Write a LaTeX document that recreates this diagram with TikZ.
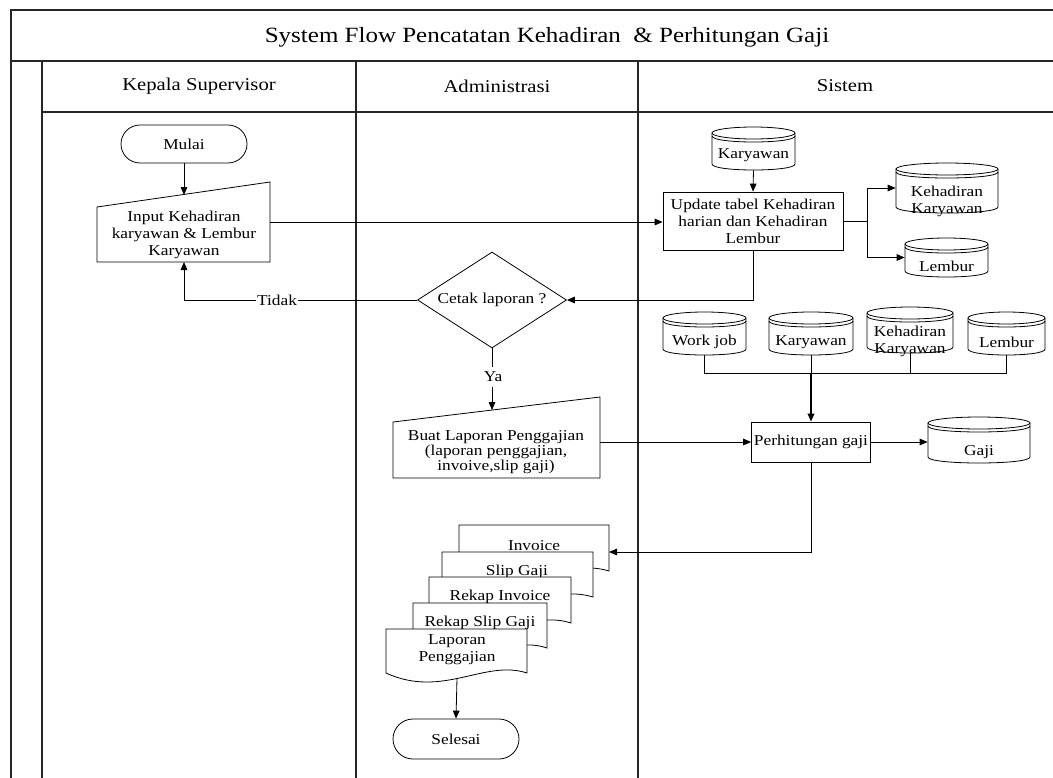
\documentclass[tikz,border=0pt]{standalone}
\usepackage{fontspec}
\setmainfont{Liberation Serif}[FakeStretch=1.15]
\usetikzlibrary{shapes.geometric,shapes.misc,arrows.meta}
% database cylinder outline: x1,y1,x2,y2
\newcommand\dbshape[4]{%
  \draw[fill=white] (#1,#2+6) -- (#1,#4-6) .. controls (#1,#4+2) and (#3,#4+2) .. (#3,#4-6) -- (#3,#2+6);
  \draw[fill=white] ({(#1+#3)/2},#2+6) ellipse [x radius={(#3-#1)*0.375pt}, y radius=4.5pt];
  \draw (#1,#2+9) .. controls (#1,#2+17) and (#3,#2+17) .. (#3,#2+9);
}
\newcommand\dbnode[5]{%
  \dbshape{#2}{#3}{#4}{#5}
  \node[inner sep=0pt, minimum width={(#4-#2)*0.75pt}, minimum height={(#5-#3)*0.75pt}] (#1) at ({(#2+#4)/2},{(#3+#5)/2}) {};
}
% manual input: x1, y top-left, x2, y top-right, y bottom
\newcommand\maninshape[5]{%
  \draw[fill=white] (#1,#5) -- (#1,#2) -- (#3,#4) -- (#3,#5) -- cycle;
}
% document: x1, top, x2, y bottom
\newcommand\docshape[4]{%
  \draw[fill=white] (#1,#4) -- (#1,#2) -- (#3,#2) -- (#3,#4) .. controls ({#3-0.3*(#3-#1)},#4-14) and ({#1+0.4*(#3-#1)},#4+26) .. (#1,#4) -- cycle;
}
\begin{document}
\begin{tikzpicture}[x=0.75pt,y=-0.75pt,line width=0.6pt,
  arr/.style={-{Triangle[length=6pt,width=5pt]}},
  lane/.style={line width=1.2pt, draw=black!85},
  txt/.style={font=\fontsize{11.3}{12.75}\selectfont, align=center, inner sep=0pt},
  hdr/.style={font=\fontsize{13.5}{15}\selectfont, inner sep=0pt},
  ttl/.style={font=\fontsize{16.3}{18}\selectfont, inner sep=0pt},
  term/.style={rounded rectangle, draw, fill=white, minimum width=94.5pt, inner sep=0pt, font=\fontsize{11.3}{12.75}\selectfont},
  box/.style={rectangle, draw, fill=white, align=center, inner sep=0pt, font=\fontsize{11.3}{12.75}\selectfont},
  lbl/.style={font=\fontsize{11.3}{12.75}\selectfont, fill=white, inner xsep=1pt, inner ysep=2.5pt}
  ]
\useasboundingbox (0,0) rectangle (1053,778);
\fill[white] (0,0) rectangle (1053,778);

% ---------- frame and lanes ----------
\draw[lane] (11,778) -- (11,10) -- (1053,10);
\draw[lane, line width=1.5pt] (11,61) -- (1053,61);
\draw[lane] (42,61) -- (42,778);
\draw[lane] (42,112) -- (1053,112);
\draw[lane] (356,61) -- (356,778);
\draw[lane] (638,61) -- (638,778);

\node[ttl] (title) at (547,37) {System Flow Pencatatan Kehadiran\ \ \& Perhitungan Gaji};
\node[hdr] (h1) at (199,86) {Kepala Supervisor};
\node[hdr] (h2) at (497,86) {Administrasi};
\node[hdr] (h3) at (845,86) {Sistem};

% ---------- Kepala Supervisor ----------
\node[term, minimum height=28.5pt] (mulai) at (184,144) {Mulai};
\maninshape{97}{207}{270}{182}{262}
\node[txt] (inp) at (184,235) {Input Kehadiran\\karyawan \& Lembur\\Karyawan};
\coordinate (inpT) at (184,195);
\coordinate (inpR) at (270,222);
\coordinate (inpB) at (184,262);

% ---------- Sistem: update ----------
\dbnode{kar1}{712}{127}{795}{170}
\node[txt] (kar1t) at (753.5,155) {Karyawan};
\node[box, minimum width=135pt, minimum height=43.5pt] (upd) at (753,221) {Update tabel Kehadiran\\harian dan Kehadiran\\Lembur};
\dbnode{kk1}{896}{163}{998}{213}
\node[txt] (kk1t) at (947,201) {Kehadiran\\Karyawan};
\dbnode{lem1}{905}{238}{988}{277}
\node[txt] (lem1t) at (946.5,266) {Lembur};

% ---------- Administrasi ----------
\node[diamond, draw, fill=white, aspect=1.55, minimum width=111.75pt, minimum height=72pt, inner sep=0pt, font=\fontsize{11.3}{12.75}\selectfont] (cetak) at (492,300) {Cetak laporan ?};
\maninshape{393}{422}{600}{397}{478}
\node[txt, font=\fontsize{11.3}{11}\selectfont] (buat) at (496,452) {Buat Laporan Penggajian\\(laporan penggajian,\\invoive,slip gaji)};
\coordinate (buatT) at (492,410);
\coordinate (buatR) at (600,442);

% ---------- Sistem: perhitungan ----------
\dbnode{wj}{663}{312}{746}{355}
\node[txt] (wjt) at (704.5,342) {Work job};
\dbnode{kar2}{769}{312}{853}{355}
\node[txt] (kar2t) at (811,342) {Karyawan};
\dbnode{kk2}{867}{307}{953}{353}
\node[txt] (kk2t) at (910,341) {Kehadiran\\Karyawan};
\dbnode{lem2}{968}{312}{1045}{355}
\node[txt] (lem2t) at (1006.5,342) {Lembur};
\node[box, minimum width=89.25pt, minimum height=30pt] (perh) at (811,442) {Perhitungan gaji};
\dbnode{gaji}{928}{417}{1030}{463}
\node[txt] (gajit) at (979,452) {Gaji};
\coordinate (busy) at (0,373);

% ---------- documents ----------
\docshape{459}{525}{609}{571}
\node[txt] (inv) at (534,546) {Invoice};
\docshape{442}{552}{593}{597}
\node[txt] (slip) at (517,572) {Slip Gaji};
\docshape{429}{577}{571}{623}
\node[txt] (rinv) at (500,597) {Rekap Invoice};
\docshape{413}{603}{547}{648}
\node[txt] (rslip) at (480,623) {Rekap Slip Gaji};
\docshape{386}{629}{527}{673}
\node[txt] (lap) at (457,650) {Laporan\\Penggajian};
\coordinate (invR) at (609,552);
\coordinate (lapB) at (457,678);
\node[term, minimum height=30pt] (selesai) at (456,739) {Selesai};

% ---------- connectors ----------
\draw[arr] (mulai.south) -- (inpT);
\draw[arr] (inpR) -- (inpR -| upd.west);
\draw[arr] (kar1.south) -- (upd.north);
\draw (upd.east) -- ++(24,0) coordinate (br);
\draw[arr] (br) |- (kk1.west);
\draw[arr] (br) |- (lem1.west);
\draw[arr] (upd.south) |- (cetak.east);
\draw[arr] (cetak.west) -| (inpB);
\node[lbl] (tidak) at (277,300) {Tidak};
\draw[arr] (cetak.south) -- (buatT);
\node[lbl, inner ysep=4pt] (ya) at (493,377) {Ya};
\draw[arr] (buatR) -- (buatR -| perh.west);
\draw (wj.south) |- (busy -| lem2.south) -- (lem2.south);
\draw (kk2.south) -- (kk2.south |- busy);
\draw (kar2.south) -- (kar2.south |- busy);
\draw[arr, line width=1.1pt] (kar2.south |- busy) -- (perh.north);
\draw[arr] (perh.east) -- (perh.east -| gaji.west);
\draw[arr] (perh.south) |- (invR);
\draw[arr] (lapB) -- (selesai.north);
\end{tikzpicture}
\end{document}
